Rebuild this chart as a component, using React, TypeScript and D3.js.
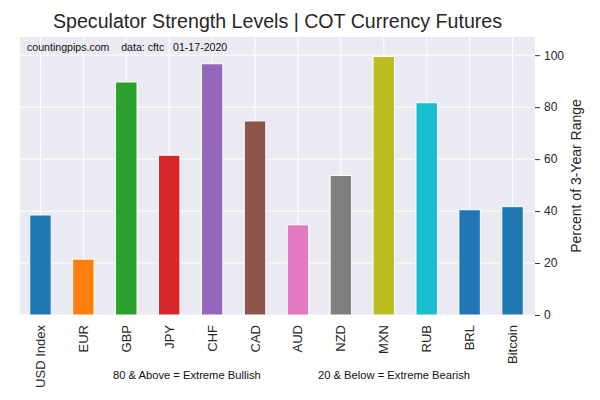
import React, { useEffect, useRef } from "react";
import * as d3 from "d3";

// currency names and speculator strength (% of 3-year range)
const categories = ["USD Index", "EUR", "GBP", "JPY", "CHF", "CAD", "AUD", "NZD", "MXN", "RUB", "BRL", "Bitcoin"];
const strength = [38.5, 21.5, 89.7, 61.5, 96.7, 74.7, 34.7, 53.7, 99.5, 81.7, 40.5, 41.7];
const barColors = [
  "#1f77b4", "#ff7f0e", "#2ca02c", "#d62728", "#9467bd", "#8c564b",
  "#e377c2", "#7f7f7f", "#bcbd22", "#17becf", "#1f77b4", "#1f77b4",
];
const yTicks = [0, 20, 40, 60, 80, 100];

const W = 600;
const H = 400;
const margin = { left: 20, right: 65, top: 37, bottom: 85 };
const FONT = "Arial, 'Liberation Sans', sans-serif";

const App = () => {
  const ref = useRef(null);

  useEffect(() => {
    const svg = d3.select(ref.current);
    svg.html("");

    const x0 = margin.left;
    const x1 = W - margin.right;
    const y0 = H - margin.bottom;
    const y1 = margin.top;

    const x: any = d3
      .scaleBand()
      .domain(categories)
      .range([x0 - 1, x1 - 1])
      .paddingInner(0.5)
      .paddingOuter(0.25);
    const y = d3.scaleLinear().domain([0, 107]).range([y0, y1]);

    svg.append("rect").attr("width", W).attr("height", H).attr("fill", "#ffffff");

    // plot background
    svg
      .append("rect")
      .attr("x", x0)
      .attr("y", y1)
      .attr("width", x1 - x0)
      .attr("height", y0 - y1)
      .attr("fill", "#eaeaf2");

    // grid
    const grid = svg.append("g");
    grid
      .selectAll(".hg")
      .data(yTicks)
      .join("line")
      .attr("x1", x0)
      .attr("x2", x1)
      .attr("y1", (d) => y(d))
      .attr("y2", (d) => y(d))
      .attr("stroke", "#ffffff")
      .attr("stroke-width", 1);
    grid
      .selectAll(".vg")
      .data(categories)
      .join("line")
      .attr("x1", (d) => x(d) + x.bandwidth() / 2)
      .attr("x2", (d) => x(d) + x.bandwidth() / 2)
      .attr("y1", y1)
      .attr("y2", y0)
      .attr("stroke", "#ffffff")
      .attr("stroke-width", 1);

    // bars
    svg
      .append("g")
      .selectAll("rect")
      .data(strength)
      .join("rect")
      .attr("x", (d, i) => x(categories[i]))
      .attr("y", (d) => y(d))
      .attr("width", x.bandwidth())
      .attr("height", (d) => y0 - y(d))
      .attr("fill", (d, i) => barColors[i])
      .attr("stroke", "#ffffff")
      .attr("stroke-width", 1);

    // right axis
    const yAxis = svg
      .append("g")
      .attr("transform", `translate(${x1},0)`)
      .call(d3.axisRight(y).tickValues(yTicks).tickSize(5).tickPadding(4));
    yAxis.select(".domain").remove();
    yAxis.selectAll("line").attr("stroke", "#333333");
    yAxis
      .selectAll("text")
      .attr("fill", "#262626")
      .style("font-family", FONT)
      .style("font-size", "12px");

    // x labels
    svg
      .append("g")
      .selectAll("text")
      .data(categories)
      .join("text")
      .attr("transform", (d) => `translate(${x(d) + x.bandwidth() / 2 + 4.5},${y0 + 10}) rotate(-90)`)
      .attr("text-anchor", "end")
      .attr("fill", "#262626")
      .style("font-family", FONT)
      .style("font-size", "13px")
      .text((d) => d);

    // y title
    svg
      .append("text")
      .attr("transform", `translate(${581},${(y0 + y1) / 2}) rotate(-90)`)
      .attr("text-anchor", "middle")
      .attr("fill", "#262626")
      .style("font-family", FONT)
      .style("font-size", "14px")
      .text("Percent of 3-Year Range");

    // title
    svg
      .append("text")
      .attr("x", (x0 + x1) / 2)
      .attr("y", 28)
      .attr("text-anchor", "middle")
      .attr("fill", "#262626")
      .style("font-family", FONT)
      .style("font-size", "19.6px")
      .text("Speculator Strength Levels | COT Currency Futures");

    // source note
    svg
      .append("text")
      .attr("x", 27)
      .attr("y", 51)
      .attr("fill", "#111111")
      .style("font-family", FONT)
      .style("font-size", "10.6px")
      .attr("xml:space", "preserve")
      .text("countingpips.com    data: cftc   01-17-2020");

    // footnotes
    svg
      .append("text")
      .attr("x", 113)
      .attr("y", 379)
      .attr("fill", "#111111")
      .style("font-family", FONT)
      .style("font-size", "11.2px")
      .text("80 & Above = Extreme Bullish");
    svg
      .append("text")
      .attr("x", 318)
      .attr("y", 379)
      .attr("fill", "#111111")
      .style("font-family", FONT)
      .style("font-size", "11.2px")
      .text("20 & Below = Extreme Bearish");
  }, []);

  return (
    <div style={{ margin: "-8px" }}>
      <svg ref={ref} width={W} height={H} viewBox={`0 0 ${W} ${H}`} style={{ display: "block" }}></svg>
    </div>
  );
};

export default App;
